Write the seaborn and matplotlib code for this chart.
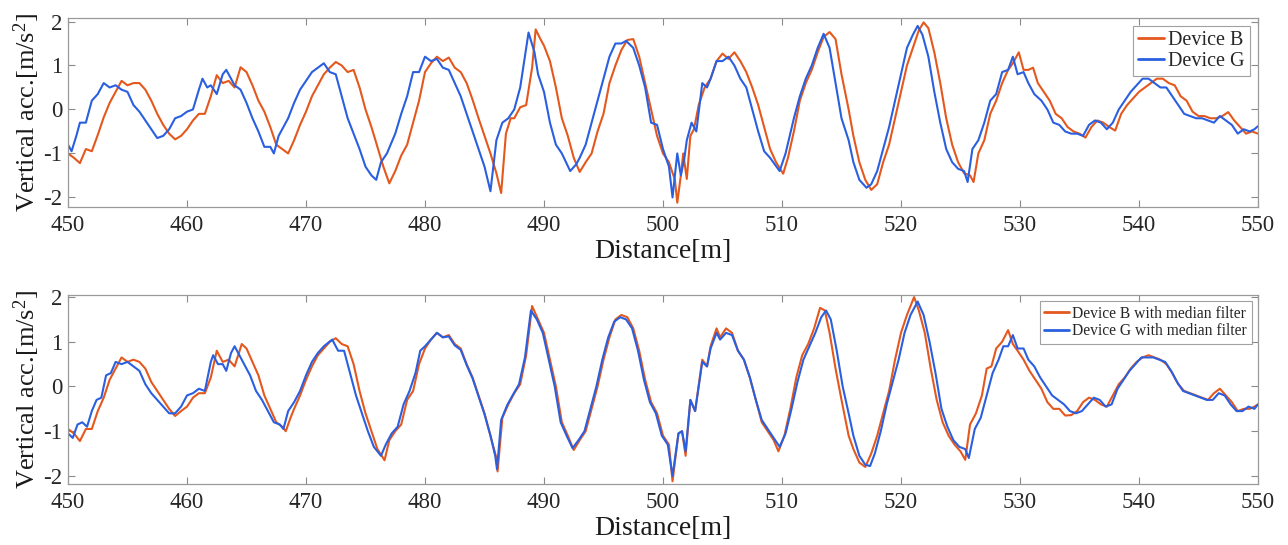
import numpy as np
import pandas as pd
import seaborn as sns
import matplotlib
matplotlib.use("Agg")
import matplotlib.pyplot as plt

# ---------------- data ----------------
top_b_x = [450, 450.5, 451, 451.5, 452, 452.5, 453, 453.5, 454, 454.5, 455, 455.5, 456, 456.5, 457, 457.5, 458, 458.5, 459, 459.5,
           460, 460.5, 461, 461.5, 462, 462.5, 463, 463.5, 464, 464.5, 465, 465.5, 466, 466.5, 467, 467.5, 468, 468.5, 469, 469.5,
           470, 470.5, 471, 471.5, 472, 472.5, 473, 473.5, 474, 474.5, 475, 475.5, 476, 476.5, 477, 477.5, 478, 478.5, 479, 479.5,
           480, 480.5, 481, 481.5, 482, 482.5, 483, 483.5, 484, 484.5, 485, 485.5, 486, 486.4, 486.8, 487.2, 487.5, 488, 488.5, 489,
           489.3, 489.7, 490, 490.5, 491, 491.5, 492, 492.5, 493, 493.5, 494, 494.5, 495, 495.5, 496, 496.5, 497, 497.5, 498, 498.5,
           499, 499.5, 500, 500.5, 501, 501.2, 501.5, 501.7, 502, 502.3, 502.6, 503, 503.5, 504, 504.5, 505, 505.5, 506, 506.5, 507,
           507.5, 508, 508.5, 509, 509.5, 510.1, 510.5, 511, 511.5, 512, 512.5, 513, 513.5, 514, 514.5, 515, 515.6, 516, 516.5, 517,
           517.5, 518, 518.5, 519, 519.5, 520, 520.5, 521, 521.5, 521.9, 522.3, 522.8, 523.3, 523.8, 524.3, 524.8, 525.3, 525.8, 526.1, 526.5,
           527, 527.5, 528, 528.5, 529, 529.4, 529.9, 530.3, 530.7, 531.1, 531.5, 532, 532.5, 533, 533.5, 534, 534.5, 535, 535.5, 536,
           536.5, 537, 537.5, 538, 538.5, 539, 539.5, 540, 540.5, 541, 541.5, 542, 542.5, 543, 543.5, 544, 544.5, 545, 545.5, 546,
           546.5, 547, 547.5, 548, 548.5, 549, 549.5, 550]
top_b_y = [-1.0, -1.1, -1.22, -0.9, -0.95, -0.58, -0.18, 0.15, 0.4, 0.65, 0.55, 0.6, 0.6, 0.45, 0.2, -0.1, -0.35, -0.55, -0.68, -0.6,
           -0.45, -0.25, -0.1, -0.1, 0.3, 0.78, 0.6, 0.65, 0.5, 0.96, 0.85, 0.55, 0.2, -0.05, -0.4, -0.8, -0.9, -1.0, -0.7, -0.35,
           -0.05, 0.3, 0.55, 0.8, 0.95, 1.08, 1.0, 0.85, 0.9, 0.5, 0.0, -0.4, -0.85, -1.3, -1.68, -1.4, -1.05, -0.8, -0.3, 0.2,
           0.85, 1.05, 1.2, 1.1, 1.18, 0.95, 0.85, 0.6, 0.22, -0.2, -0.6, -1.0, -1.45, -1.9, -0.55, -0.2, -0.2, 0.05, 0.1, 0.95,
           1.82, 1.6, 1.45, 1.1, 0.5, -0.2, -0.6, -1.1, -1.42, -1.2, -1.0, -0.5, -0.1, 0.6, 1.0, 1.35, 1.58, 1.6, 1.2, 0.6,
           0.0, -0.6, -1.0, -1.2, -1.6, -2.12, -1.5, -1.0, -1.58, -0.6, -0.45, 0.1, 0.5, 0.7, 1.1, 1.27, 1.15, 1.3, 1.1, 0.85,
           0.5, 0.1, -0.4, -0.9, -1.2, -1.46, -1.1, -0.5, 0.2, 0.6, 0.9, 1.3, 1.65, 1.76, 1.6, 0.8, 0.0, -0.6, -1.2, -1.6,
           -1.83, -1.7, -1.2, -0.8, -0.2, 0.4, 1.0, 1.4, 1.8, 1.98, 1.85, 1.3, 0.6, -0.2, -0.8, -1.2, -1.45, -1.5, -1.65, -1.0,
           -0.7, -0.1, 0.2, 0.6, 0.9, 1.05, 1.3, 0.9, 0.9, 0.95, 0.6, 0.4, 0.2, -0.1, -0.2, -0.4, -0.5, -0.55, -0.64, -0.4,
           -0.25, -0.3, -0.4, -0.48, -0.1, 0.1, 0.25, 0.4, 0.5, 0.6, 0.7, 0.7, 0.6, 0.55, 0.3, 0.2, -0.05, -0.15, -0.15, -0.2,
           -0.2, -0.15, -0.06, -0.25, -0.4, -0.55, -0.5, -0.55]

top_g_x = [450, 450.3, 450.7, 451, 451.5, 452, 452.5, 453, 453.5, 454, 454.5, 455, 455.5, 456, 456.5, 457, 457.5, 458, 458.5, 459,
           459.5, 460, 460.5, 461, 461.3, 461.7, 462, 462.5, 463, 463.3, 463.7, 464, 464.5, 465, 465.5, 466, 466.5, 467, 467.3, 467.7,
           468, 468.5, 469, 469.5, 470, 470.5, 471, 471.5, 472, 472.5, 473, 473.5, 474, 474.5, 475, 475.5, 475.9, 476.3, 476.8, 477.5,
           478, 478.5, 479, 479.5, 480, 480.5, 481, 481.5, 482, 482.5, 483, 483.5, 484, 484.5, 485, 485.5, 486, 486.5, 487, 487.5,
           488, 488.5, 488.7, 489.2, 489.5, 490, 490.5, 491, 491.5, 492.2, 492.7, 493, 493.5, 494, 494.5, 495, 495.5, 496, 496.5, 496.9,
           497.5, 498, 498.5, 499, 499.5, 500, 500.5, 500.8, 501.2, 501.5, 501.8, 502, 502.4, 502.8, 503.3, 503.7, 504, 504.5, 505, 505.5,
           506, 506.5, 507, 507.5, 508, 508.5, 509, 509.8, 510.3, 511, 511.5, 512, 512.5, 513, 513.5, 514, 514.5, 515, 515.6, 516,
           516.5, 517.1, 517.5, 518, 518.5, 519, 519.5, 520, 520.5, 521, 521.4, 521.8, 522.3, 522.8, 523.3, 523.8, 524.3, 524.8, 525.3, 525.6,
           526, 526.5, 527, 527.5, 528, 528.5, 529, 529.4, 529.8, 530.3, 530.7, 531.2, 531.8, 532.3, 532.8, 533.3, 533.8, 534.3, 534.8, 535.3,
           535.8, 536.3, 536.8, 537.3, 537.8, 538.3, 538.8, 539.3, 539.8, 540.3, 540.8, 541.3, 541.8, 542.3, 542.8, 543.3, 543.8, 544.3, 544.8, 545.3,
           545.8, 546.3, 546.8, 547.3, 547.8, 548.3, 548.8, 549.3, 549.7, 550]
top_g_y = [-0.8, -0.95, -0.6, -0.3, -0.3, 0.2, 0.35, 0.6, 0.5, 0.55, 0.45, 0.4, 0.1, -0.05, -0.25, -0.45, -0.65, -0.6, -0.45, -0.2,
           -0.15, -0.05, 0.0, 0.45, 0.7, 0.5, 0.55, 0.35, 0.8, 0.9, 0.7, 0.55, 0.45, 0.15, -0.2, -0.5, -0.85, -0.85, -1.0, -0.6,
           -0.45, -0.2, 0.15, 0.45, 0.65, 0.85, 0.95, 1.05, 0.85, 0.8, 0.3, -0.2, -0.55, -0.9, -1.3, -1.5, -1.6, -1.2, -1.0, -0.55,
           -0.1, 0.3, 0.85, 0.85, 1.2, 1.1, 1.15, 0.95, 0.9, 0.6, 0.3, -0.1, -0.5, -0.9, -1.3, -1.86, -0.7, -0.3, -0.2, 0.0,
           0.5, 1.4, 1.75, 1.3, 0.8, 0.4, -0.3, -0.8, -1.0, -1.4, -1.25, -1.1, -0.8, -0.3, 0.2, 0.7, 1.2, 1.5, 1.5, 1.56,
           1.4, 1.0, 0.5, -0.3, -0.35, -0.9, -1.3, -2.0, -1.0, -1.5, -1.1, -0.7, -0.3, -0.5, 0.6, 0.5, 0.7, 1.1, 1.1, 1.2,
           1.0, 0.7, 0.5, 0.0, -0.5, -0.95, -1.1, -1.4, -1.0, -0.2, 0.3, 0.7, 1.0, 1.4, 1.72, 1.4, 0.6, -0.2, -0.7, -1.2,
           -1.6, -1.78, -1.7, -1.4, -0.9, -0.4, 0.2, 0.8, 1.4, 1.7, 1.9, 1.7, 1.2, 0.4, -0.3, -0.9, -1.2, -1.35, -1.4, -1.65,
           -0.9, -0.7, -0.3, 0.2, 0.35, 0.85, 0.9, 1.2, 0.8, 0.85, 0.6, 0.35, 0.2, 0.0, -0.3, -0.35, -0.5, -0.55, -0.55, -0.6,
           -0.35, -0.25, -0.3, -0.45, -0.3, 0.0, 0.2, 0.4, 0.55, 0.7, 0.7, 0.6, 0.5, 0.5, 0.3, 0.1, -0.1, -0.15, -0.2, -0.2,
           -0.25, -0.3, -0.15, -0.25, -0.35, -0.55, -0.45, -0.5, -0.45, -0.38]

bot_b_x = [450, 450.5, 451, 451.5, 452, 452.5, 453, 453.5, 454, 454.5, 455, 455.5, 456, 456.5, 457, 457.5, 458, 458.5, 459, 459.5,
           460, 460.5, 461, 461.5, 462, 462.5, 463, 463.5, 464, 464.6, 465, 465.5, 466, 466.5, 467, 467.5, 468, 468.3, 468.7, 469,
           469.5, 470, 470.5, 471, 471.5, 472, 472.5, 473, 473.5, 474, 474.5, 475, 475.5, 476, 476.6, 477, 477.5, 478, 478.5, 479,
           479.5, 480, 480.5, 481, 481.5, 482, 482.5, 483, 483.5, 484, 484.5, 485, 485.5, 486, 486.1, 486.5, 487, 487.5, 488, 488.5,
           489, 489.5, 490, 490.5, 491, 491.5, 492, 492.5, 493, 493.5, 494, 494.5, 495, 495.5, 496, 496.5, 497, 497.5, 498, 498.5,
           499, 499.5, 500, 500.5, 500.8, 501.3, 501.6, 501.9, 502.3, 502.7, 503.3, 503.7, 504, 504.5, 504.8, 505.3, 505.8, 506.3, 506.8, 507.3,
           507.8, 508.3, 508.8, 509.3, 509.7, 510.2, 510.7, 511.2, 511.7, 512.2, 512.7, 513.2, 513.6, 514, 514.5, 515, 515.6, 516, 516.5, 517,
           517.5, 518, 518.5, 519, 519.5, 520, 520.5, 521.1, 521.5, 522, 522.5, 523, 523.5, 524, 524.5, 525, 525.4, 525.8, 526.3, 526.8,
           527.2, 527.6, 528, 528.5, 529, 529.4, 529.8, 530.3, 530.8, 531.3, 531.8, 532.3, 532.8, 533.3, 533.8, 534.3, 534.8, 535.3, 535.8, 536.3,
           536.8, 537.3, 537.8, 538.3, 538.8, 539.3, 539.8, 540.3, 540.8, 541.3, 541.8, 542.3, 542.8, 543.3, 543.8, 544.3, 544.8, 545.3, 545.8, 546.3,
           546.8, 547.3, 547.8, 548.3, 548.8, 549.3, 549.7, 550]
bot_b_y = [-0.95, -1.05, -1.22, -0.95, -0.95, -0.55, -0.25, 0.15, 0.4, 0.65, 0.55, 0.6, 0.55, 0.4, 0.1, -0.1, -0.3, -0.5, -0.66, -0.55,
           -0.45, -0.25, -0.15, -0.15, 0.2, 0.8, 0.55, 0.6, 0.45, 0.95, 0.85, 0.55, 0.25, -0.2, -0.5, -0.8, -0.9, -1.0, -0.7, -0.5,
           -0.2, 0.15, 0.45, 0.7, 0.85, 1.0, 1.08, 0.95, 0.9, 0.5, -0.1, -0.6, -1.0, -1.4, -1.65, -1.2, -1.0, -0.85, -0.3, -0.1,
           0.5, 0.85, 1.05, 1.2, 1.1, 1.15, 0.95, 0.85, 0.5, 0.2, -0.2, -0.6, -1.1, -1.6, -1.9, -0.7, -0.4, -0.15, 0.05, 0.7,
           1.8, 1.5, 1.2, 0.6, 0.0, -0.8, -1.1, -1.42, -1.2, -1.0, -0.5, 0.0, 0.6, 1.1, 1.5, 1.6, 1.55, 1.3, 0.8, 0.15,
           -0.35, -0.6, -1.1, -1.3, -2.12, -1.05, -1.0, -1.55, -0.3, -0.55, 0.6, 0.45, 0.9, 1.3, 1.1, 1.3, 1.2, 0.8, 0.6, 0.2,
           -0.3, -0.8, -1.0, -1.2, -1.45, -1.1, -0.5, 0.2, 0.7, 0.95, 1.3, 1.76, 1.7, 1.2, 0.4, -0.3, -1.1, -1.4, -1.7, -1.8,
           -1.5, -1.1, -0.6, -0.1, 0.6, 1.2, 1.6, 2.0, 1.7, 1.2, 0.4, -0.3, -0.8, -1.1, -1.3, -1.45, -1.64, -0.85, -0.6, -0.2,
           0.4, 0.45, 0.85, 1.0, 1.26, 0.95, 0.8, 0.6, 0.35, 0.15, -0.05, -0.35, -0.5, -0.5, -0.65, -0.64, -0.55, -0.35, -0.25, -0.3,
           -0.4, -0.45, -0.2, 0.05, 0.2, 0.4, 0.55, 0.65, 0.7, 0.65, 0.6, 0.5, 0.3, 0.05, -0.1, -0.15, -0.2, -0.25, -0.3, -0.15,
           -0.05, -0.2, -0.35, -0.55, -0.5, -0.5, -0.45, -0.4]

bot_g_x = [450, 450.4, 450.8, 451.2, 451.6, 452, 452.4, 452.8, 453.2, 453.6, 454, 454.5, 455, 455.5, 456, 456.5, 457, 457.5, 458, 458.5,
           459, 459.5, 460, 460.5, 461, 461.5, 462, 462.2, 462.6, 463, 463.3, 463.7, 464, 464.4, 464.8, 465.3, 465.8, 466.3, 466.8, 467.3,
           467.8, 468.1, 468.5, 469, 469.5, 470, 470.5, 471, 471.5, 472.2, 472.7, 473.2, 473.7, 474.2, 474.7, 475.2, 475.7, 476.3, 476.7, 477.2,
           477.7, 478.2, 478.7, 479.2, 479.6, 480, 480.5, 481, 481.5, 482, 482.5, 483, 483.5, 484, 484.5, 485, 485.5, 485.9, 486.05, 486.4,
           486.9, 487.4, 487.9, 488.4, 488.9, 489.4, 489.9, 490.4, 490.9, 491.4, 491.9, 492.4, 492.9, 493.4, 493.9, 494.4, 494.9, 495.4, 495.9, 496.4,
           496.9, 497.4, 497.9, 498.4, 498.9, 499.4, 499.9, 500.4, 500.8, 501.3, 501.6, 501.9, 502.3, 502.7, 503.3, 503.7, 504, 504.5, 504.8, 505.3,
           505.8, 506.3, 506.8, 507.3, 507.8, 508.3, 508.8, 509.3, 509.8, 510.3, 510.8, 511.3, 511.8, 512.3, 512.8, 513.3, 513.7, 514.1, 514.6, 515.1,
           515.6, 516, 516.5, 517, 517.4, 517.8, 518.3, 518.8, 519.3, 519.8, 520.3, 520.8, 521.4, 521.9, 522.4, 522.9, 523.4, 523.9, 524.4, 524.9,
           525.4, 525.7, 526.2, 526.7, 527.2, 527.7, 528.2, 528.6, 529, 529.4, 529.8, 530.3, 530.7, 531.2, 531.7, 532.2, 532.7, 533.2, 533.7, 534.2,
           534.7, 535.2, 535.7, 536.2, 536.7, 537.2, 537.7, 538.2, 538.7, 539.2, 539.7, 540.2, 540.7, 541.2, 541.7, 542.2, 542.7, 543.2, 543.7, 544.2,
           544.7, 545.2, 545.7, 546.2, 546.7, 547.2, 547.7, 548.2, 548.7, 549.2, 549.7, 550]
bot_g_y = [-1.05, -1.15, -0.85, -0.8, -0.9, -0.55, -0.3, -0.25, 0.25, 0.3, 0.55, 0.5, 0.55, 0.45, 0.35, 0.05, -0.15, -0.3, -0.45, -0.6,
           -0.6, -0.45, -0.2, -0.15, -0.05, -0.1, 0.55, 0.7, 0.5, 0.5, 0.35, 0.75, 0.9, 0.7, 0.5, 0.25, -0.1, -0.3, -0.55, -0.8,
           -0.85, -0.95, -0.55, -0.35, -0.1, 0.25, 0.55, 0.75, 0.9, 1.05, 0.8, 0.8, 0.3, -0.2, -0.6, -1.0, -1.35, -1.55, -1.3, -1.05,
           -0.9, -0.4, -0.1, 0.3, 0.8, 0.9, 1.05, 1.2, 1.1, 1.12, 0.92, 0.82, 0.48, 0.18, -0.22, -0.62, -1.1, -1.55, -1.85, -0.75,
           -0.42, -0.18, 0.05, 0.65, 1.7, 1.5, 1.2, 0.6, 0.0, -0.8, -1.1, -1.38, -1.2, -1.0, -0.5, 0.0, 0.6, 1.1, 1.45, 1.55,
           1.5, 1.3, 0.8, 0.15, -0.35, -0.6, -1.1, -1.3, -2.0, -1.05, -1.0, -1.45, -0.3, -0.55, 0.55, 0.45, 0.85, 1.2, 1.05, 1.2,
           1.15, 0.8, 0.6, 0.2, -0.3, -0.75, -0.95, -1.15, -1.35, -1.05, -0.5, 0.1, 0.6, 0.9, 1.2, 1.55, 1.7, 1.5, 0.8, 0.0,
           -0.6, -1.1, -1.55, -1.75, -1.78, -1.5, -1.0, -0.4, 0.1, 0.6, 1.2, 1.6, 1.9, 1.6, 1.0, 0.3, -0.5, -0.9, -1.2, -1.35,
           -1.4, -1.6, -0.95, -0.7, -0.2, 0.3, 0.6, 0.9, 0.9, 1.15, 0.85, 0.85, 0.6, 0.45, 0.2, 0.0, -0.2, -0.3, -0.4, -0.55,
           -0.6, -0.55, -0.4, -0.25, -0.3, -0.45, -0.4, -0.05, 0.15, 0.35, 0.5, 0.65, 0.65, 0.65, 0.6, 0.55, 0.35, 0.1, -0.1, -0.15,
           -0.2, -0.25, -0.3, -0.3, -0.15, -0.2, -0.4, -0.55, -0.55, -0.45, -0.5, -0.4]

top_labels = ["Device B", "Device G"]
bot_labels = ["Device B with median filter", "Device G with median filter"]
x_ticks = [450, 460, 470, 480, 490, 500, 510, 520, 530, 540, 550]
y_ticks = [-2, -1, 0, 1, 2]

# ---------------- style ----------------
sns.set_theme(style="white")
plt.rcParams['font.family'] = ['Liberation Serif', 'DejaVu Serif']
plt.rcParams['mathtext.fontset'] = 'custom'
plt.rcParams['mathtext.rm'] = 'Liberation Serif'
plt.rcParams['mathtext.it'] = 'Liberation Serif'

ORANGE = "#E4581E"
BLUE = "#2A5FE0"

fig = plt.figure(figsize=(12.88, 5.45), dpi=100)
ax1 = fig.add_axes([0.0528, 0.620, 0.9239, 0.347])
ax2 = fig.add_axes([0.0528, 0.112, 0.9239, 0.347])


def make_df(xs, ys, label):
    return pd.DataFrame({"Distance": xs, "acc": ys, "series": label})


df_top = pd.concat([make_df(top_b_x, top_b_y, top_labels[0]),
                    make_df(top_g_x, top_g_y, top_labels[1])], ignore_index=True)
df_bot = pd.concat([make_df(bot_b_x, bot_b_y, bot_labels[0]),
                    make_df(bot_g_x, bot_g_y, bot_labels[1])], ignore_index=True)

sns.lineplot(data=df_top, x="Distance", y="acc", hue="series", ax=ax1,
             palette={top_labels[0]: ORANGE, top_labels[1]: BLUE}, linewidth=1.5,
             estimator=None, sort=False)
sns.lineplot(data=df_bot, x="Distance", y="acc", hue="series", ax=ax2,
             palette={bot_labels[0]: ORANGE, bot_labels[1]: BLUE}, linewidth=1.5,
             estimator=None, sort=False)

ylims = [(-2.22, 2.08), (-2.18, 2.05)]
for ax, yl in zip([ax1, ax2], ylims):
    ax.set_xlim(450, 550)
    ax.set_ylim(*yl)
    ax.set_xticks(x_ticks)
    ax.set_yticks(y_ticks)
    ax.set_xticklabels([str(t) for t in x_ticks], fontsize=16.5, color="#262626")
    ax.set_yticklabels([str(t) for t in y_ticks], fontsize=16.5, color="#262626")
    ax.tick_params(direction="in", length=5, width=0.8, color="#8a8a8a",
                   top=True, right=True, bottom=True, left=True)
    ax.tick_params(axis="x", pad=5.5)
    ax.tick_params(axis="y", pad=4)
    for s in ax.spines.values():
        s.set_color("#9a9a9a")
        s.set_linewidth(0.9)
    ax.set_xlabel("Distance[m]", fontsize=20, color="#1a1a1a", labelpad=2.5)
    ax.set_ylabel(r"Vertical acc.[m/s$^2$]", fontsize=19, color="#1a1a1a", labelpad=1)
    ax.grid(False)

leg1 = ax1.legend(loc="upper right", fontsize=14.5, frameon=True, fancybox=False,
                  edgecolor="#8a8a8a", handlelength=1.3, handletextpad=0.2,
                  borderpad=0.25, labelspacing=0.1, borderaxespad=0.4)
leg1.get_frame().set_linewidth(0.8)
leg2 = ax2.legend(loc="upper right", fontsize=11.2, frameon=True, fancybox=False,
                  edgecolor="#8a8a8a", handlelength=1.6, handletextpad=0.2,
                  borderpad=0.3, labelspacing=0.1, borderaxespad=0.4)
leg2.get_frame().set_linewidth(0.8)
for leg in (leg1, leg2):
    for ln in leg.get_lines():
        ln.set_linewidth(2.0)

fig.savefig("out.png", dpi=100)
